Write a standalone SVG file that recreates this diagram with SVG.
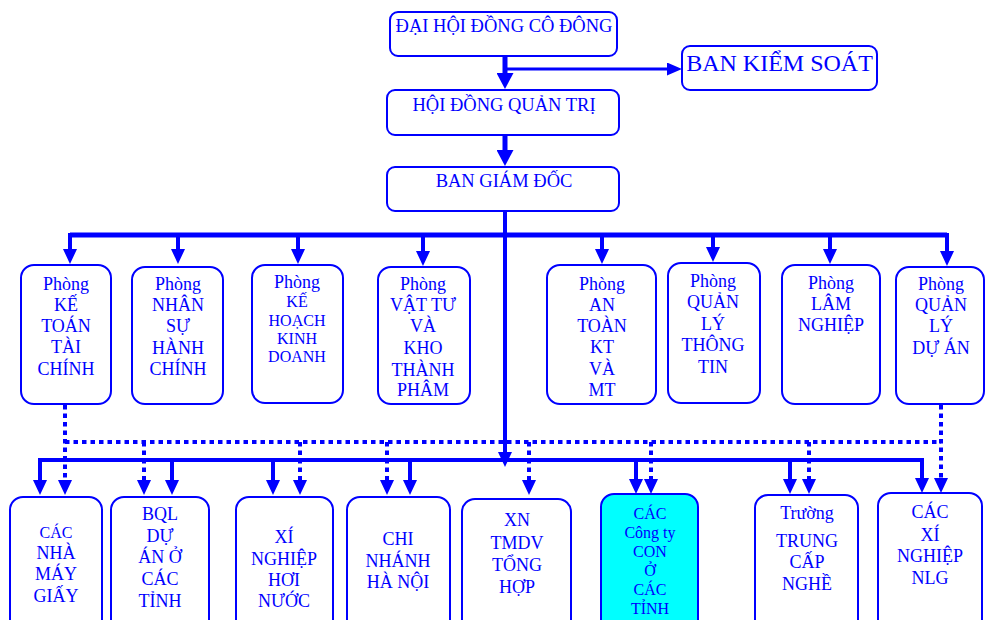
<svg xmlns="http://www.w3.org/2000/svg" width="985" height="620" viewBox="0 0 985 620">
<style>
.box{fill:#fff;stroke:#0000FF;stroke-width:2}
.cyan{fill:#00FFFF}
text{font-family:"Liberation Serif","Times New Roman",serif;fill:#0000FF;text-anchor:middle;font-size:18px}
.s15{font-size:16px}
.s16{font-size:16px}
.big{font-size:24px}
.top{font-size:18.5px}
.ln{stroke:#0000FF;fill:none;stroke-width:4}
.thick{stroke-width:5}
.thin{stroke-width:3}
.dot{stroke-dasharray:4.5 4}
</style>
<defs>
<marker id="ah" markerUnits="userSpaceOnUse" markerWidth="15" markerHeight="14" refX="1" refY="7" orient="auto">
<path d="M0,0 L15,7 L0,14 z" fill="#0000FF"/>
</marker>
<marker id="ahBig" markerUnits="userSpaceOnUse" markerWidth="16" markerHeight="17" refX="1" refY="8.5" orient="auto">
<path d="M0,0 L16,8.5 L0,17 z" fill="#0000FF"/>
</marker>
<marker id="ahSm" markerUnits="userSpaceOnUse" markerWidth="15" markerHeight="13" refX="1" refY="6.5" orient="auto">
<path d="M0,0 L15,6.5 L0,13 z" fill="#0000FF"/>
</marker>
</defs>

<g id="connectors">
<line class="ln thick" x1="505" y1="56" x2="505" y2="74" marker-end="url(#ahBig)"/>
<line class="ln thin" x1="505" y1="69" x2="668" y2="69" marker-end="url(#ahSm)"/>
<line class="ln thick" x1="505" y1="135" x2="505" y2="151" marker-end="url(#ahBig)"/>
<line class="ln" x1="505" y1="211" x2="505" y2="453" marker-end="url(#ah)"/>
<line class="ln thick" x1="70" y1="235" x2="947" y2="235"/>
<line class="ln" x1="70" y1="233" x2="70" y2="250" marker-end="url(#ah)"/>
<line class="ln" x1="178" y1="235" x2="178" y2="250" marker-end="url(#ah)"/>
<line class="ln" x1="298" y1="235" x2="298" y2="250" marker-end="url(#ah)"/>
<line class="ln" x1="423" y1="235" x2="423" y2="252" marker-end="url(#ah)"/>
<line class="ln" x1="602" y1="235" x2="602" y2="250" marker-end="url(#ah)"/>
<line class="ln" x1="713" y1="235" x2="713" y2="248" marker-end="url(#ah)"/>
<line class="ln" x1="830" y1="235" x2="830" y2="250" marker-end="url(#ah)"/>
<line class="ln" x1="947" y1="233" x2="947" y2="252" marker-end="url(#ah)"/>
<line class="ln dot" x1="65" y1="442" x2="941" y2="442"/>
<line class="ln dot" x1="65" y1="405" x2="65" y2="481" marker-end="url(#ah)"/>
<line class="ln dot" x1="941" y1="405" x2="941" y2="479" marker-end="url(#ah)"/>
<line class="ln dot" x1="144" y1="442" x2="144" y2="481" marker-end="url(#ah)"/>
<line class="ln dot" x1="300" y1="442" x2="300" y2="481" marker-end="url(#ah)"/>
<line class="ln dot" x1="387" y1="442" x2="387" y2="481" marker-end="url(#ah)"/>
<line class="ln dot" x1="529" y1="442" x2="529" y2="481" marker-end="url(#ah)"/>
<line class="ln dot" x1="651" y1="442" x2="651" y2="480" marker-end="url(#ah)"/>
<line class="ln dot" x1="809" y1="442" x2="809" y2="480" marker-end="url(#ah)"/>
<line class="ln" x1="40" y1="460" x2="922" y2="460"/>
<line class="ln" x1="40" y1="458" x2="40" y2="481" marker-end="url(#ah)"/>
<line class="ln" x1="172" y1="460" x2="172" y2="481" marker-end="url(#ah)"/>
<line class="ln" x1="273" y1="460" x2="273" y2="481" marker-end="url(#ah)"/>
<line class="ln" x1="410" y1="460" x2="410" y2="481" marker-end="url(#ah)"/>
<line class="ln" x1="636" y1="460" x2="636" y2="480" marker-end="url(#ah)"/>
<line class="ln" x1="790" y1="460" x2="790" y2="480" marker-end="url(#ah)"/>
<line class="ln" x1="922" y1="458" x2="922" y2="479" marker-end="url(#ah)"/>
</g>

<g id="n-dhdcd"><rect class="box" x="390" y="12" width="227" height="44" rx="8"/><text class="top" x="504" y="32">ĐẠI HỘI ĐỒNG CÔ ĐÔNG</text></g>
<g id="n-bks"><rect class="box" x="682" y="46" width="195" height="44" rx="8"/><text class="big" x="779.5" y="71">BAN KIỂM SOÁT</text></g>
<g id="n-hdqt"><rect class="box" x="387" y="90" width="232" height="45" rx="8"/><text class="top" x="504" y="111">HỘI ĐỒNG QUẢN TRỊ</text></g>
<g id="n-bgd"><rect class="box" x="387" y="167" width="232" height="44" rx="8"/><text class="top" x="504" y="187">BAN GIÁM ĐỐC</text></g>

<g id="n-p1"><rect class="box" x="21" y="265" width="90" height="139" rx="13"/>
<text x="66" y="290">Phòng</text><text x="66" y="311">KẾ</text><text x="66" y="332">TOÁN</text><text x="66" y="353">TÀI</text><text x="66" y="375">CHÍNH</text></g>
<g id="n-p2"><rect class="box" x="132" y="267" width="91" height="137" rx="13"/>
<text x="178" y="290">Phòng</text><text x="178" y="311">NHÂN</text><text x="178" y="332">SỰ</text><text x="178" y="354">HÀNH</text><text x="178" y="375">CHÍNH</text></g>
<g id="n-p3"><rect class="box" x="252" y="265" width="91" height="138" rx="13"/>
<text x="297" y="288">Phòng</text><text class="s15" x="297" y="307">KẾ</text><text class="s15" x="297" y="326">HOẠCH</text><text class="s15" x="297" y="344">KINH</text><text class="s15" x="297" y="362">DOANH</text></g>
<g id="n-p4"><rect class="box" x="378" y="267" width="92" height="137" rx="13"/>
<text x="423" y="290">Phòng</text><text x="423" y="311">VẬT TƯ</text><text x="423" y="332">VÀ</text><text x="423" y="354">KHO</text><text x="423" y="376">THÀNH</text><text x="423" y="396">PHÂM</text></g>
<g id="n-p5"><rect class="box" x="547" y="265" width="109" height="139" rx="13"/>
<text x="602" y="290">Phòng</text><text x="602" y="311">AN</text><text x="602" y="332">TOÀN</text><text x="602" y="353">KT</text><text x="602" y="375">VÀ</text><text x="602" y="396">MT</text></g>
<g id="n-p6"><rect class="box" x="668" y="263" width="92" height="140" rx="13"/>
<text x="713" y="287">Phòng</text><text x="713" y="308">QUẢN</text><text x="713" y="330">LÝ</text><text x="713" y="351">THÔNG</text><text x="713" y="373">TIN</text></g>
<g id="n-p7"><rect class="box" x="782" y="265" width="98" height="139" rx="13"/>
<text x="831" y="289">Phòng</text><text x="831" y="310">LÂM</text><text x="831" y="331">NGHIỆP</text></g>
<g id="n-p8"><rect class="box" x="896" y="267" width="88" height="137" rx="13"/>
<text x="941" y="290">Phòng</text><text x="941" y="311">QUẢN</text><text x="941" y="332">LÝ</text><text x="941" y="354">DỰ ÁN</text></g>

<g id="n-b1"><rect class="box" x="10" y="497" width="92" height="140" rx="13"/>
<text class="s16" x="56" y="538">CÁC</text><text x="56" y="559">NHÀ</text><text x="56" y="580">MÁY</text><text x="56" y="602">GIẤY</text></g>
<g id="n-b2"><rect class="box" x="111" y="497" width="98" height="140" rx="13"/>
<text x="160" y="520">BQL</text><text x="160" y="542">DỰ</text><text x="160" y="563">ÁN Ở</text><text x="160" y="585">CÁC</text><text x="160" y="607">TỈNH</text></g>
<g id="n-b3"><rect class="box" x="236" y="497" width="97" height="140" rx="13"/>
<text x="284" y="543">XÍ</text><text x="284" y="565">NGHIỆP</text><text x="284" y="586">HƠI</text><text x="284" y="607">NƯỚC</text></g>
<g id="n-b4"><rect class="box" x="347" y="497" width="103" height="140" rx="13"/>
<text x="398" y="545">CHI</text><text x="398" y="567">NHÁNH</text><text x="398" y="588">HÀ NỘI</text></g>
<g id="n-b5"><rect class="box" x="462" y="499" width="109" height="140" rx="13"/>
<text x="517" y="526">XN</text><text x="517" y="549">TMDV</text><text x="517" y="571">TỔNG</text><text x="517" y="593">HỢP</text></g>
<g id="n-b6"><rect class="box cyan" x="601" y="494" width="97" height="140" rx="13"/>
<text class="s16" x="650" y="519">CÁC</text><text class="s16" x="650" y="538">Công ty</text><text class="s16" x="650" y="557">CON</text><text class="s16" x="650" y="576">Ở</text><text class="s16" x="650" y="595">CÁC</text><text class="s16" x="650" y="614">TỈNH</text></g>
<g id="n-b7"><rect class="box" x="755" y="495" width="103" height="140" rx="13"/>
<text x="807" y="519">Trường</text><text x="807" y="547">TRUNG</text><text x="807" y="568">CẤP</text><text x="807" y="590">NGHỀ</text></g>
<g id="n-b8"><rect class="box" x="878" y="493" width="104" height="140" rx="13"/>
<text x="930" y="518">CÁC</text><text x="930" y="541">XÍ</text><text x="930" y="562">NGHIỆP</text><text x="930" y="584">NLG</text></g>
</svg>
